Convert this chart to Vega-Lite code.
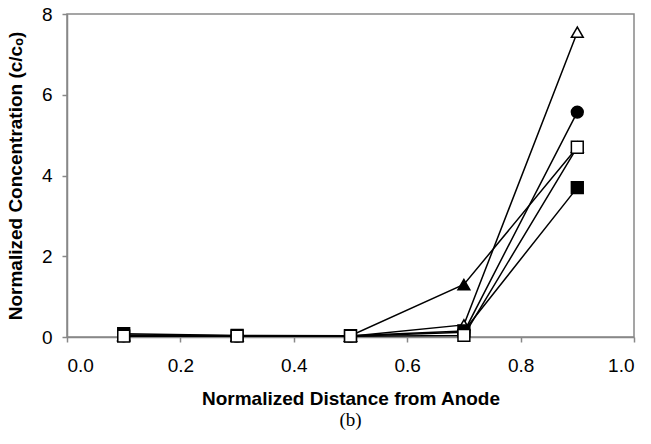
{
  "$schema": "https://vega.github.io/schema/vega-lite/v6.json",
  "autosize": "none",
  "width": 567,
  "height": 323,
  "padding": {"left": 67, "top": 14, "right": 17, "bottom": 107},
  "background": "white",
  "config": {
    "view": {"stroke": "#888888", "strokeWidth": 1.5},
    "font": "Liberation Sans"
  },
  "title": {
    "text": "(b)",
    "orient": "bottom",
    "anchor": "middle",
    "frame": "group",
    "font": "Liberation Serif",
    "fontSize": 19,
    "fontWeight": "normal",
    "color": "black",
    "offset": 3
  },
  "data": {
    "values": [
      {"s": "A", "x": 0.1, "y": 0.05}, {"s": "A", "x": 0.3, "y": 0.03}, {"s": "A", "x": 0.5, "y": 0.03}, {"s": "A", "x": 0.7, "y": 1.3}, {"s": "A", "x": 0.9, "y": 4.7},
      {"s": "B", "x": 0.1, "y": 0.02}, {"s": "B", "x": 0.3, "y": 0.02}, {"s": "B", "x": 0.5, "y": 0.02}, {"s": "B", "x": 0.7, "y": 0.3}, {"s": "B", "x": 0.9, "y": 7.55},
      {"s": "C", "x": 0.1, "y": 0.03}, {"s": "C", "x": 0.3, "y": 0.02}, {"s": "C", "x": 0.5, "y": 0.02}, {"s": "C", "x": 0.7, "y": 0.12}, {"s": "C", "x": 0.9, "y": 5.57},
      {"s": "D", "x": 0.1, "y": 0.08}, {"s": "D", "x": 0.3, "y": 0.04}, {"s": "D", "x": 0.5, "y": 0.03}, {"s": "D", "x": 0.7, "y": 0.15}, {"s": "D", "x": 0.9, "y": 3.7},
      {"s": "E", "x": 0.1, "y": 0.02}, {"s": "E", "x": 0.3, "y": 0.02}, {"s": "E", "x": 0.5, "y": 0.02}, {"s": "E", "x": 0.7, "y": 0.04}, {"s": "E", "x": 0.9, "y": 4.7}
    ]
  },
  "encoding": {
    "x": {
      "field": "x", "type": "quantitative",
      "scale": {"domain": [0, 1], "nice": false, "zero": false},
      "axis": {
        "title": "Normalized Distance from Anode",
        "values": [0, 0.2, 0.4, 0.6, 0.8, 1.0],
        "format": ".1f",
        "grid": false,
        "domainColor": "#888888", "domainWidth": 1.5,
        "tickColor": "#888888", "tickSize": 5, "tickWidth": 1.5,
        "labelFont": "Liberation Sans", "labelFontSize": 19, "labelColor": "black", "labelPadding": 14,
        "titleFont": "Liberation Sans", "titleFontSize": 19, "titleFontWeight": "bold", "titleColor": "black", "titlePadding": 14
      }
    },
    "y": {
      "field": "y", "type": "quantitative",
      "scale": {"domain": [0, 8], "nice": false},
      "axis": {
        "title": "Normalized Concentration (c/cₒ)",
        "values": [0, 2, 4, 6, 8],
        "grid": false,
        "domainColor": "#888888", "domainWidth": 1.5,
        "tickColor": "#888888", "tickSize": 5, "tickWidth": 1.5,
        "labelFont": "Liberation Sans", "labelFontSize": 19, "labelColor": "black", "labelPadding": 10,
        "titleFont": "Liberation Sans", "titleFontSize": 19, "titleFontWeight": "bold", "titleColor": "black", "titlePadding": 16
      }
    }
  },
  "layer": [
    {
      "mark": {"type": "line", "color": "black", "strokeWidth": 1.5},
      "encoding": {"detail": {"field": "s", "type": "nominal"}}
    },
    {
      "mark": {"type": "point", "filled": false, "stroke": "black", "strokeWidth": 1.5, "opacity": 1},
      "encoding": {
        "shape": {"field": "s", "type": "nominal", "scale": {"domain": ["A", "B", "C", "D", "E"], "range": ["triangle-up", "triangle-up", "circle", "square", "square"]}, "legend": null},
        "fill": {"field": "s", "type": "nominal", "scale": {"domain": ["A", "B", "C", "D", "E"], "range": ["black", "white", "black", "black", "white"]}, "legend": null},
        "size": {"value": 140}
      }
    }
  ]
}
